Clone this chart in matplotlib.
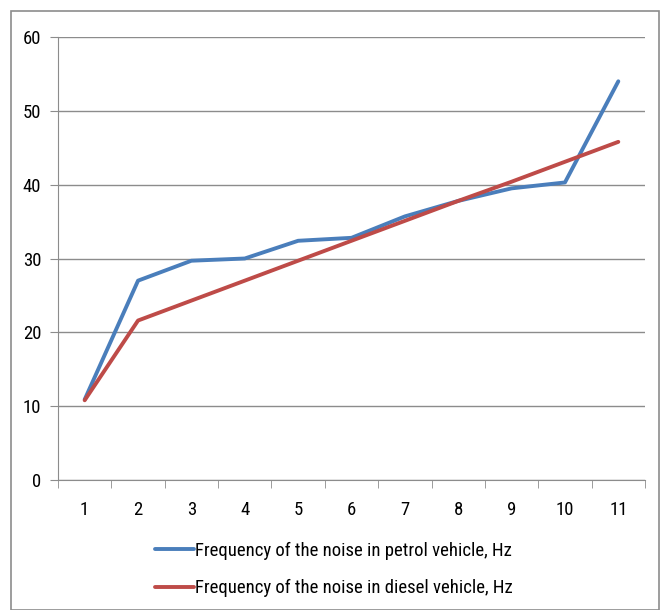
import numpy as np
import matplotlib
matplotlib.use('Agg')
from matplotlib import pyplot as plt
from matplotlib.patches import Rectangle

plt.rcParams['font.family'] = ['Liberation Sans Narrow', 'Roboto Condensed', 'Roboto', 'DejaVu Sans']

categories = ['1', '2', '3', '4', '5', '6', '7', '8', '9', '10', '11']
petrol = [10.9, 27.0, 29.7, 30.0, 32.4, 32.8, 35.7, 37.8, 39.5, 40.3, 54.0]
diesel = [10.8, 21.6, 24.3, 27.0, 29.7, 32.4, 35.1, 37.8, 40.4, 43.1, 45.8]
labels = ['Frequency of the noise in petrol vehicle, Hz',
          'Frequency of the noise in diesel vehicle, Hz']

W, H = 663, 610
fig = plt.figure(figsize=(W / 100, H / 100), dpi=100)
ax = fig.add_axes([58 / W, 1 - 480 / H, (645 - 58) / W, (480 - 37) / H])

# outer chart border
fig.patches.append(Rectangle((11 / W, 0), (659 - 11) / W, 1 - 11 / H, transform=fig.transFigure,
                             fill=False, edgecolor='#8c8c8c', lw=1.2))

x = np.arange(1, len(categories) + 1)
l1, = ax.plot(x, petrol, color='#4a7ebb', lw=2.8, solid_capstyle='round', solid_joinstyle='round')
l2, = ax.plot(x, diesel, color='#be4b48', lw=2.8, solid_capstyle='round', solid_joinstyle='round')

ax.set_xlim(0.5, len(categories) + 0.5)
ax.set_ylim(0, 60)
ax.set_yticks(range(0, 61, 10))
ax.yaxis.grid(True, color='#8c8c8c', lw=1)
ax.set_axisbelow(True)
ax.set_xticks(x)
ax.set_xticklabels(categories)
ax.set_xticks(np.arange(0.5, len(categories) + 1), minor=True)
ax.tick_params(axis='x', which='major', length=0, pad=15, labelsize=13.5)
ax.tick_params(axis='x', which='minor', length=6, direction='out', color='#8c8c8c')
ax.tick_params(axis='y', length=6, direction='out', color='#8c8c8c', pad=6, labelsize=13.5)
for s in ['top', 'right']:
    ax.spines[s].set_visible(False)
for s in ['left', 'bottom']:
    ax.spines[s].set_color('#8c8c8c')

fig.legend([l1, l2], labels, loc='upper left', bbox_to_anchor=(147 / W, 1 - 534 / H),
           frameon=False, fontsize=13.5, handlelength=2.1, handletextpad=0.05,
           labelspacing=1.05, borderaxespad=0)

fig.savefig('out.png', dpi=100)
